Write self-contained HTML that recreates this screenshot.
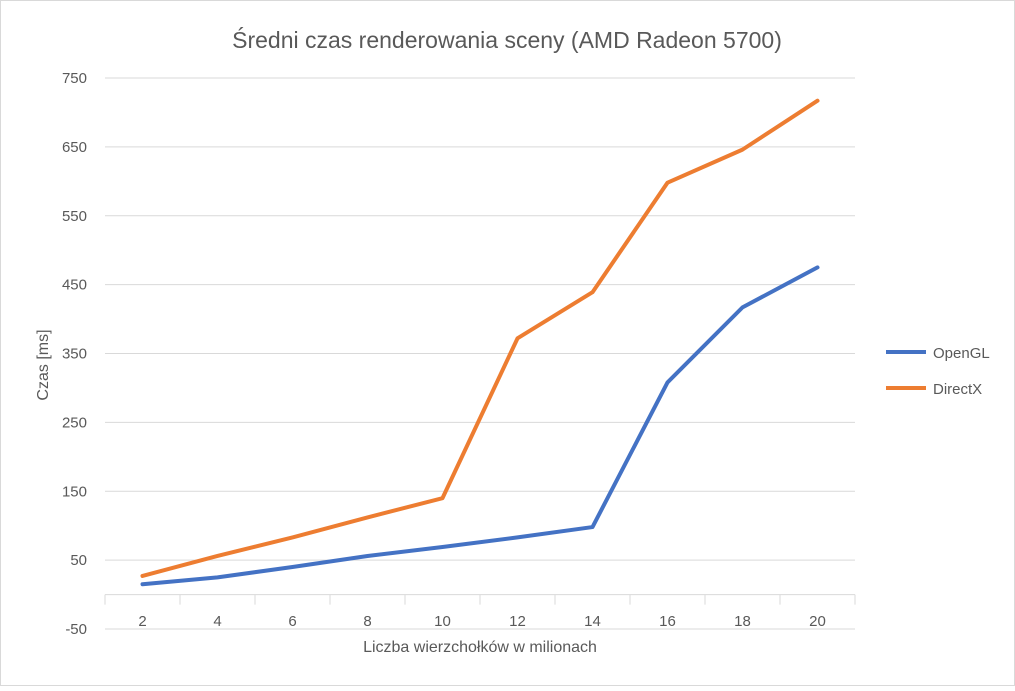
<!DOCTYPE html>
<html><head><meta charset="utf-8"><style>
body{margin:0;background:#fff}
svg{font-family:"Liberation Sans",sans-serif}
</style></head><body>
<svg width="1015" height="686">
<rect x="0.5" y="0.5" width="1014" height="685" fill="#fff" stroke="#d9d9d9"/>
<text x="507" y="48" text-anchor="middle" font-size="23" fill="#595959">Średni czas renderowania sceny (AMD Radeon 5700)</text>
<g id="grid"></g><g id="ticks"></g><g id="series"></g>
<text transform="translate(48,365) rotate(-90)" text-anchor="middle" font-size="16" fill="#595959">Czas  [ms]</text>
<text x="480" y="652" text-anchor="middle" font-size="16" fill="#595959">Liczba wierzchołków w milionach</text>
<g>
<line x1="886" y1="352" x2="926" y2="352" stroke="#4472c4" stroke-width="4"/>
<text x="933" y="358" font-size="15" fill="#595959">OpenGL</text>
<line x1="886" y1="388" x2="926" y2="388" stroke="#ed7d31" stroke-width="4"/>
<text x="933" y="394" font-size="15" fill="#595959">DirectX</text>
</g>
</svg>
<script>
const categories=[2,4,6,8,10,12,14,16,18,20];
const openglValues=[15,25,40,56,69,83,98,308,417,475];
const directxValues=[27,56,83,112,140,372,439,598,646,717];
const yTicks=[-50,50,150,250,350,450,550,650,750];
const NS="http://www.w3.org/2000/svg";
const X0=105,X1=855,Y0=629,Y1=78,VMIN=-50,VMAX=750;
const y=v=>Y0-(v-VMIN)/(VMAX-VMIN)*(Y0-Y1);
const bw=(X1-X0)/categories.length;
const x=i=>X0+bw*(i+0.5);
function mk(t,a,p){const e=document.createElementNS(NS,t);for(const k in a)e.setAttribute(k,a[k]);p.appendChild(e);return e;}
const grid=document.getElementById('grid'),ticks=document.getElementById('ticks'),series=document.getElementById('series');
yTicks.forEach(v=>{
 const l=mk('line',{x1:X0,x2:X1,y1:y(v),y2:y(v),stroke:'#d9d9d9','stroke-width':1},grid);
 
 
 const t=mk('text',{x:87,y:y(v)+5,'text-anchor':'end','font-size':15,fill:'#595959'},ticks);
 t.textContent=v;
 
 
});
const ax=mk('line',{x1:X0,x2:X1,y1:y(0),y2:y(0),stroke:'#d9d9d9','stroke-width':1},grid);


for(let i=0;i<=categories.length;i++){
 const tk=mk('line',{x1:X0+bw*i,x2:X0+bw*i,y1:y(0),y2:y(0)+10,stroke:'#d9d9d9'},grid);
 
 
}
categories.forEach((c,i)=>{
 const t=mk('text',{x:x(i),y:626,'text-anchor':'middle','font-size':15,fill:'#595959'},ticks);
 t.textContent=c;
 
 
});
function line(vals,color,name){
 const p=mk('polyline',{points:vals.map((v,i)=>x(i)+','+y(v)).join(' '),fill:'none',stroke:color,'stroke-width':4,'stroke-linejoin':'round','stroke-linecap':'round'},series);
 
 
}
line(openglValues,'#4472c4','series-opengl');
line(directxValues,'#ed7d31','series-directx');
</script>
</body></html>
